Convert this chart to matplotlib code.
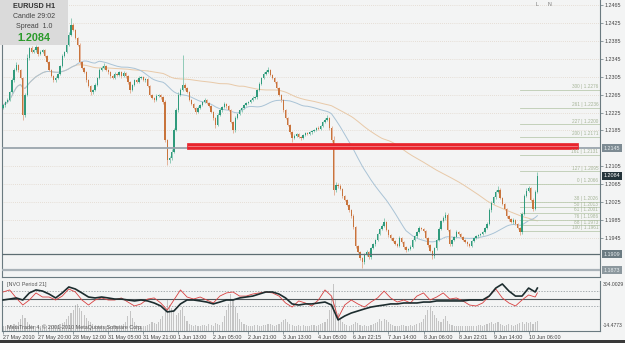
import numpy as np
import pandas as pd
import matplotlib
matplotlib.use("Agg")
import matplotlib.pyplot as plt
from matplotlib.patches import Rectangle

plt.rcParams["font.family"] = ["Liberation Sans", "DejaVu Sans"]

# EURUSD H1, one close per bar (open = previous close)
first_open = 1.2236
closes = [
    1.2242, 1.2248, 1.2253, 1.2271, 1.2297, 1.2320, 1.2331, 1.2320, 1.2302, 1.2219,
    1.2264, 1.2347, 1.2369, 1.2360, 1.2364, 1.2371, 1.2355, 1.2360, 1.2364, 1.2351,
    1.2338, 1.2320, 1.2306, 1.2297, 1.2302, 1.2311, 1.2329, 1.2351, 1.2360, 1.2376,
    1.2398, 1.2420, 1.2409, 1.2391, 1.2376, 1.2338, 1.2324, 1.2315, 1.2297, 1.2284,
    1.2271, 1.2275, 1.2286, 1.2302, 1.2320, 1.2324, 1.2329, 1.2320, 1.2315, 1.2306,
    1.2302, 1.2311, 1.2309, 1.2315, 1.2306, 1.2313, 1.2306, 1.2293, 1.2275, 1.2286,
    1.2297, 1.2293, 1.2302, 1.2304, 1.2297, 1.2299, 1.2284, 1.2264, 1.2257, 1.2253,
    1.2262, 1.2264, 1.2259, 1.2248, 1.2164, 1.2119, 1.2123, 1.2137, 1.2186, 1.2230,
    1.2264, 1.2275, 1.2286, 1.2280, 1.2271, 1.2253, 1.2244, 1.2235, 1.2226, 1.2235,
    1.2242, 1.2248, 1.2253, 1.2246, 1.2239, 1.2226, 1.2213, 1.2197, 1.2219, 1.2230,
    1.2237, 1.2244, 1.2239, 1.2230, 1.2204, 1.2186, 1.2213, 1.2222, 1.2230, 1.2235,
    1.2242, 1.2246, 1.2248, 1.2253, 1.2257, 1.2259, 1.2275, 1.2289, 1.2302, 1.2311,
    1.2315, 1.2320, 1.2309, 1.2302, 1.2293, 1.2280, 1.2264, 1.2253, 1.2230, 1.2213,
    1.2197, 1.2181, 1.2168, 1.2172, 1.2177, 1.2170, 1.2168, 1.2175, 1.2179, 1.2177,
    1.2181, 1.2184, 1.2186, 1.2190, 1.2188, 1.2195, 1.2204, 1.2208, 1.2213, 1.2190,
    1.2164, 1.2052, 1.2063, 1.2061, 1.2054, 1.2039, 1.2030, 1.2018, 1.2007, 1.1994,
    1.1969, 1.1927, 1.1914, 1.1900, 1.1891, 1.1907, 1.1914, 1.1902, 1.1922, 1.1931,
    1.1940, 1.1954, 1.1965, 1.1972, 1.1980, 1.1963, 1.1951, 1.1945, 1.1938, 1.1931,
    1.1927, 1.1945, 1.1936, 1.1925, 1.1918, 1.1920, 1.1925, 1.1940, 1.1949, 1.1958,
    1.1967, 1.1965, 1.1960, 1.1945, 1.1929, 1.1916, 1.1905, 1.1922, 1.1940, 1.1965,
    1.1983, 1.1989, 1.1996, 1.1963, 1.1931, 1.1940, 1.1947, 1.1958, 1.1954, 1.1947,
    1.1940, 1.1936, 1.1931, 1.1927, 1.1938, 1.1945, 1.1949, 1.1951, 1.1954, 1.1958,
    1.1967, 1.1976, 1.2007, 1.2023, 1.2036, 1.2047, 1.2052, 1.2034, 1.2021, 1.2010,
    1.1994, 1.1987, 1.1980, 1.1985, 1.1976, 1.1967, 1.1958, 1.1998, 1.2039, 1.2050,
    1.2056, 1.2030, 1.2010, 1.2047, 1.2084,
]
# wick lengths above / below the body, in pips
wick_up = [
    3, 2, 4, 3, 5, 4, 6, 3, 2, 3, 4, 8, 3, 4, 3, 5, 2, 4, 3, 2,
    3, 2, 3, 2, 4, 3, 2, 5, 3, 4, 6, 16, 4, 3, 2, 3, 2, 3, 2, 3,
    2, 3, 4, 3, 5, 4, 6, 3, 2, 3, 2, 4, 3, 3, 2, 4, 3, 2, 3, 2,
    3, 2, 4, 3, 2, 3, 2, 2, 3, 2, 4, 3, 2, 3, 4, 3, 5, 6, 4, 5,
    6, 5, 67, 4, 3, 2, 3, 2, 3, 4, 3, 2, 4, 3, 2, 3, 2, 3, 5, 4,
    3, 4, 3, 2, 3, 2, 4, 3, 2, 3, 2, 3, 2, 3, 4, 3, 2, 4, 3, 4,
    5, 7, 3, 2, 3, 2, 3, 2, 3, 2, 3, 2, 3, 4, 2, 3, 2, 3, 2, 3,
    2, 3, 2, 3, 4, 3, 3, 4, 7, 3, 4, 8, 6, 5, 4, 3, 2, 3, 2, 3,
    4, 3, 2, 3, 2, 5, 4, 3, 4, 3, 2, 3, 2, 4, 9, 3, 2, 3, 2, 3,
    2, 5, 3, 2, 3, 2, 4, 3, 2, 3, 4, 3, 2, 3, 2, 3, 2, 4, 3, 4,
    3, 4, 7, 4, 3, 2, 3, 4, 3, 2, 3, 2, 3, 2, 3, 2, 3, 2, 3, 2,
    3, 4, 5, 4, 3, 4, 9, 4, 3, 2, 3, 2, 3, 4, 3, 2, 3, 4, 5, 6,
    5, 3, 4, 5, 9,
]
wick_dn = [
    3, 4, 2, 3, 2, 3, 2, 4, 3, 11, 5, 3, 4, 3, 2, 3, 4, 2, 3, 3,
    2, 3, 2, 4, 3, 2, 3, 2, 3, 2, 3, 2, 3, 2, 3, 4, 3, 2, 3, 2,
    7, 4, 3, 2, 3, 2, 3, 2, 3, 4, 3, 2, 3, 2, 3, 2, 3, 4, 7, 3,
    2, 3, 2, 3, 2, 3, 2, 3, 2, 4, 3, 2, 3, 4, 5, 11, 6, 4, 3, 2,
    3, 2, 3, 4, 3, 2, 3, 2, 4, 3, 2, 3, 2, 3, 2, 3, 4, 7, 3, 2,
    3, 2, 3, 2, 3, 7, 4, 3, 2, 3, 2, 3, 2, 2, 3, 2, 3, 2, 3, 2,
    3, 2, 3, 2, 3, 2, 3, 4, 3, 2, 3, 4, 9, 3, 2, 3, 4, 3, 2, 3,
    2, 3, 2, 3, 2, 3, 2, 3, 2, 3, 4, 11, 5, 4, 3, 4, 3, 2, 3, 4,
    5, 4, 3, 4, 13, 4, 3, 4, 3, 2, 3, 2, 3, 2, 3, 2, 3, 4, 3, 2,
    3, 2, 3, 4, 5, 3, 2, 3, 2, 3, 2, 3, 2, 3, 4, 3, 7, 4, 3, 2,
    3, 2, 3, 2, 4, 3, 2, 3, 2, 3, 2, 3, 4, 3, 2, 3, 2, 3, 2, 3,
    2, 3, 2, 3, 2, 3, 2, 3, 2, 3, 4, 3, 2, 3, 2, 3, 7, 3, 2, 3,
    2, 3, 4, 3, 2,
]

time_labels = ["27 May 2010", "27 May 20:00", "28 May 12:00", "31 May 05:00",
               "31 May 21:00", "1 Jun 13:00", "2 Jun 05:00", "2 Jun 21:00",
               "3 Jun 13:00", "4 Jun 05:00", "6 Jun 22:15", "7 Jun 14:00",
               "8 Jun 06:00", "8 Jun 22:01", "9 Jun 14:00", "10 Jun 06:00"]
label_step = 16

price_ticks = [1.2465, 1.2425, 1.2385, 1.2345, 1.2305, 1.2265, 1.2225, 1.2185,
               1.2105, 1.2065, 1.2025, 1.1985, 1.1945]

# chart objects
hline_main = 1.2145
hline_low = 1.1909
hline_low2 = 1.1873
rect_t0, rect_t1 = 84, 262.5
rect_p0, rect_p1 = 1.2143, 1.2157
fib_start = 236
fib_0, fib_100 = 1.2066, 1.1961
fib_levels = [0, 38.2, 50, 61.8, 76.4, 88.6, 100, 127.2, 161.8, 200, 227.2, 261.8, 300]
ma_fast, ma_slow = 34, 100

# NVO Period 21 indicator, sampled every 3 bars
nvo_bars = list(range(0, 244, 3)) + [244]
nvo_main = [183, 189, 196, 183, 228, 247, 240, 221, 196, 228, 266, 253, 228, 202,
            196, 202, 196, 189, 189, 183, 177, 183, 177, 164, 145, 107, 113, 158,
            183, 183, 177, 170, 158, 170, 183, 183, 196, 202, 208, 221, 234, 234,
            221, 196, 158, 151, 158, 158, 164, 170, 151, 56, 81, 100, 113, 126,
            138, 145, 151, 158, 158, 164, 164, 164, 170, 170, 177, 177, 177, 177,
            177, 183, 183, 183, 208, 259, 285, 240, 208, 208, 259, 234, 259]
nvo_signal = [234, 247, 196, 151, 183, 228, 202, 202, 183, 208, 253, 234, 183, 151,
              183, 196, 183, 183, 196, 170, 145, 158, 189, 196, 164, 119, 183, 247,
              202, 189, 202, 183, 164, 208, 228, 234, 208, 208, 221, 228, 234, 228,
              208, 164, 138, 177, 164, 145, 183, 247, 208, 68, 151, 183, 158, 138,
              170, 196, 240, 196, 170, 183, 164, 208, 228, 183, 202, 228, 189, 196,
              177, 151, 145, 164, 208, 253, 196, 164, 145, 183, 215, 202, 228]
nvo_hist = [
    20, 15, 25, 18, 22, 30, 25, 40, 60, 90, 70, 45, 30, 25, 20, 15, 20, 18, 25, 20,
    15, 20, 18, 22, 25, 20, 30, 35, 45, 60, 80, 100, 120, 150, 160, 130, 110, 90, 70, 50,
    40, 30, 25, 20, 18, 22, 20, 15, 18, 20, 15, 18, 20, 25, 22, 30, 45, 80, 115, 70,
    40, 25, 20, 18, 15, 20, 25, 30, 40, 35, 30, 45, 60, 80, 120, 190, 150, 130, 110, 90,
    100, 120, 140, 80, 50, 30, 25, 20, 25, 20, 18, 22, 25, 20, 30, 25, 20, 35, 30, 25,
    40, 80, 120, 160, 220, 180, 140, 100, 60, 40, 30, 25, 20, 18, 20, 22, 25, 20, 18, 22,
    25, 30, 28, 22, 20, 25, 30, 40, 55, 64, 45, 30, 25, 20, 18, 22, 20, 25, 20, 18,
    20, 25, 22, 18, 25, 30, 35, 45, 60, 120, 200, 285, 180, 100, 60, 40, 30, 25, 20, 25,
    30, 40, 35, 25, 20, 22, 20, 18, 25, 30, 35, 45, 60, 50, 65, 55, 40, 30, 25, 20,
    18, 20, 22, 25, 20, 18, 22, 20, 25, 30, 35, 45, 60, 90, 120, 140, 110, 90, 70, 50,
    40, 60, 80, 50, 30, 25, 20, 18, 15, 20, 18, 15, 18, 20, 15, 18, 20, 22, 25, 20,
    25, 30, 35, 40, 30, 35, 45, 30, 25, 20, 25, 30, 22, 20, 25, 30, 35, 40, 30, 45,
    35, 40, 30, 45, 50,
]
nvo_level, nvo_up, nvo_dn = 189, 240, 145
nvo_max, nvo_min = 304.0029, -14.4773

BG = "#f3f4f4"
BULL, BEAR = "#2f9a7c", "#c8743c"
BULL_W, BEAR_W = "#8fcab8", "#e4b49a"
AXC = "#6a7a80"
TXT = "#444444"
FS = 3.9

W, H = 625, 343
fig = plt.figure(figsize=(W / 100, H / 100), dpi=100, facecolor=BG)


def box(x0, y0, x1, y1):
    return [x0 / W, 1 - y1 / H, (x1 - x0) / W, (y1 - y0) / H]


ax = fig.add_axes(box(2, 0, 600, 277))
ax2 = fig.add_axes(box(2, 281, 600, 331))
for a in (ax, ax2):
    a.set_facecolor(BG)
    for s in a.spines.values():
        s.set_color(AXC)
        s.set_linewidth(0.8)
    a.spines["top"].set_visible(False)

n = len(closes)
x = np.arange(n)
c = np.array(closes)
o = np.concatenate([[first_open], c[:-1]])
hi = np.maximum(o, c) + np.array(wick_up) / 1e4
lo = np.minimum(o, c) - np.array(wick_dn) / 1e4
up = c >= o

ymin, ymax = 1.1858, 1.2476
xr = 272.6
ax.set_xlim(-0.5, xr)
ax.set_ylim(ymin, ymax)

for p in price_ticks:
    ax.axhline(p, color="#d9c9b9", lw=0.5, ls=(0, (1, 2)), zorder=0)

# moving averages
s = pd.Series(c)
ax.plot(x, s.rolling(ma_slow, min_periods=1).mean(), color="#e8c9a8", lw=0.7, zorder=1)
ax.plot(x, s.rolling(ma_fast, min_periods=1).mean(), color="#a9c3d6", lw=0.7, zorder=1)

# candles
ax.vlines(x[up], lo[up], hi[up], color=BULL_W, lw=0.7, zorder=2)
ax.vlines(x[~up], lo[~up], hi[~up], color=BEAR_W, lw=0.7, zorder=2)
body = np.maximum(np.abs(c - o), 0.00015)
ax.bar(x[up], body[up], bottom=np.minimum(o, c)[up], width=0.62, color=BULL, lw=0, zorder=3)
ax.bar(x[~up], body[~up], bottom=np.minimum(o, c)[~up], width=0.62, color=BEAR, lw=0, zorder=3)

# horizontal lines and the red zone
ax.axhline(hline_main, color="#9aa5ad", lw=1.3, zorder=4)
ax.axhline(hline_low, color="#5d6d72", lw=0.9, zorder=4)
ax.axhline(hline_low2, color="#a9b2b8", lw=1.6, zorder=4)
ax.add_patch(Rectangle((rect_t0, rect_p0), rect_t1 - rect_t0, rect_p1 - rect_p0,
                       facecolor="#e8242c", edgecolor="#e8242c", lw=0.5, zorder=5))
ax.plot([rect_t0 + 0.5, rect_t1 - 0.5], [(rect_p0 + rect_p1) / 2] * 2,
        color="#f49aa0", lw=0.5, zorder=6)

# fibonacci levels
rng = fib_0 - fib_100
for lv in fib_levels:
    if lv <= 100:
        p = fib_0 - rng * lv / 100
    else:
        p = fib_0 + rng * (lv - 100) / 100
    ax.plot([fib_start, xr], [p, p], color="#bccbb0", lw=0.6, zorder=2)
    ax.text(xr - 0.8, p + 0.00008, "%d | %.4f" % (int(lv), p), fontsize=3.4,
            color="#a6b598", ha="right", va="bottom", zorder=6)

# price scale
ax.yaxis.tick_right()
ax.set_yticks(price_ticks)
ax.set_yticklabels(["%.4f" % p for p in price_ticks])
ax.tick_params(axis="y", length=2, width=0.5, colors=AXC, labelsize=FS,
               labelcolor=TXT, pad=1.5)
ax.set_xticks([])


def price_box(p, fc, tc):
    ax.text(xr + 1.6, p, "%.4f" % p, fontsize=FS, color=tc, ha="left", va="center",
            bbox=dict(boxstyle="square,pad=0.3", fc=fc, ec="none"), zorder=7,
            clip_on=False)


price_box(hline_main, "#7d8b93", "#e8eef0")
price_box(closes[-1], "#24343a", "#ffffff")
price_box(hline_low, "#6b7b82", "#e8eef0")
price_box(hline_low2, "#8c989e", "#e8eef0")

# info box
fig.patches.append(Rectangle((0, 1 - 45 / H), 68 / W, 45 / H, transform=fig.transFigure,
                             facecolor="#dadada", edgecolor="none", zorder=10))
fig.text(34 / W, 1 - 7 / H, "EURUSD H1", fontsize=5.2, fontweight="bold", color="#333333",
         ha="center", va="center", zorder=11)
fig.text(34 / W, 1 - 17 / H, "Candle 29:02", fontsize=5, color=TXT,
         ha="center", va="center", zorder=11)
fig.text(34 / W, 1 - 27 / H, "Spread  1.0", fontsize=5, color=TXT,
         ha="center", va="center", zorder=11)
fig.text(34 / W, 1 - 38 / H, "%.4f" % closes[-1], fontsize=7.8, fontweight="bold",
         color="#2a9a2a", ha="center", va="center", zorder=11)
fig.text(537 / W, 1 - 5 / H, "L", fontsize=3.8, color="#777777", ha="center", va="center")
fig.text(549 / W, 1 - 5 / H, "N", fontsize=3.8, color="#777777", ha="center", va="center")

# indicator panel
ax2.set_xlim(-0.5, xr)
ax2.set_ylim(nvo_min, nvo_max)
ax2.bar(x, np.array(nvo_hist) - nvo_min, bottom=nvo_min, width=0.5,
        color="#c4c4c4", lw=0, zorder=1)
ax2.axhline(nvo_level, color="#50585c", lw=0.8, zorder=2)
for lv in (nvo_up, nvo_dn):
    ax2.axhline(lv, color="#8a9296", lw=0.5, ls=(0, (2, 2)), zorder=2)
ax2.plot(nvo_bars, nvo_signal, color="#d84040", lw=0.6, zorder=3)
ax2.plot(nvo_bars, nvo_main, color="#1c2c2e", lw=1.2, zorder=4)
ax2.set_yticks([])
ax2.text(xr + 1.4, nvo_max - 5, "%.4f" % nvo_max, fontsize=FS - 0.3, color=TXT,
         ha="left", va="top", clip_on=False)
ax2.text(xr + 1.4, nvo_min + 20, "%.4f" % nvo_min, fontsize=FS - 0.3, color=TXT,
         ha="left", va="bottom", clip_on=False)
ax2.text(2, nvo_max - 8, "[NVO Period 21]", fontsize=FS, color="#555555",
         ha="left", va="top")
ax2.text(2, nvo_min + 4, "MetaTrader 4, \u00a9 2001-2010 MetaQuotes Software Corp.",
         fontsize=FS, color="#555555", ha="left", va="bottom", zorder=5)

# time scale
label_bars = [i * label_step for i in range(len(time_labels))]
ax2.set_xticks(label_bars)
ax2.set_xticklabels(time_labels, ha="left")
ax2.tick_params(axis="x", length=2, width=0.5, colors=AXC, labelsize=FS,
                labelcolor=TXT, pad=1.2)

fig.patches.append(Rectangle((0, 0), 1, 3 / H, transform=fig.transFigure,
                             facecolor="#3a3a3a", edgecolor="none", zorder=0))

fig.savefig("out.png", dpi=100, facecolor=BG)
